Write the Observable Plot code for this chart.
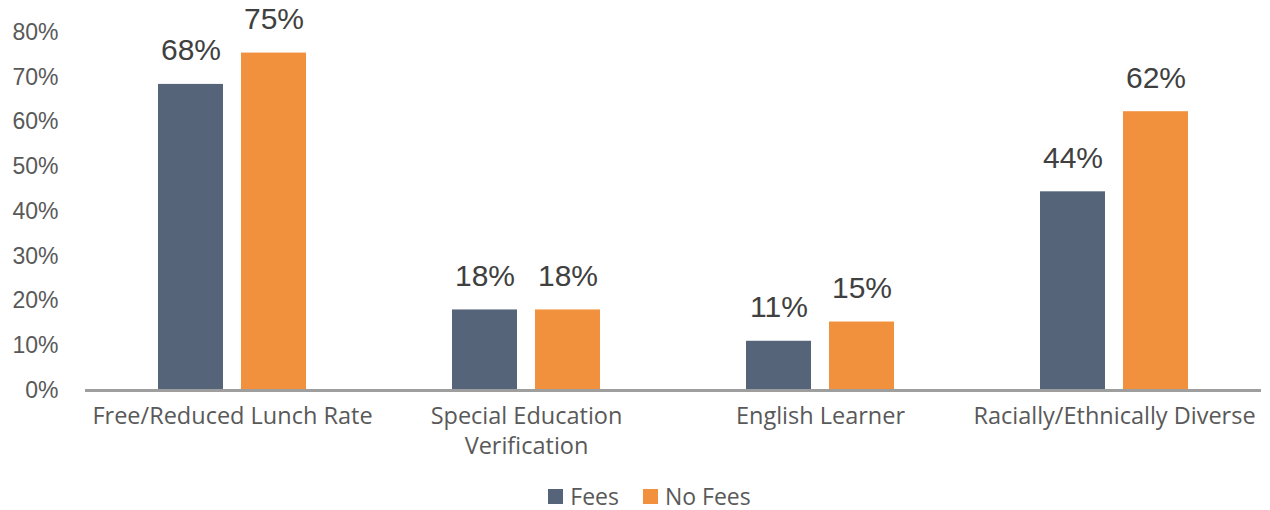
<!DOCTYPE html>
<html>
<head>
<meta charset="utf-8">
<script src="https://cdn.jsdelivr.net/npm/d3@7"></script>
<script src="https://cdn.jsdelivr.net/npm/@observablehq/plot@0.6"></script>
<style>
  html, body { margin: 0; padding: 0; background: #fff; }
  #chart { width: 1270px; }
  .legend { display: flex; justify-content: center; align-items: center; gap: 24px; height: 52px; font-family: "Open Sans", "Noto Sans", sans-serif; font-size: 23px; color: #595959; margin-left: 29px; }
  .legend span.item { display: flex; align-items: center; gap: 7px; }
  .legend span.sw { width: 15px; height: 15px; display: inline-block; }
</style>
</head>
<body>
<div id="chart"></div>
<script>
const categories = ["Free/Reduced Lunch Rate", "Special Education\nVerification", "English Learner", "Racially/Ethnically Diverse"];
const series = ["Fees", "No Fees"];
const feesValues = [68.4, 18.0, 11.0, 44.4];
const noFeesValues = [75.4, 18.0, 15.3, 62.3];
const colors = ["#556479", "#F2913D"];
const yTicks = [0, 10, 20, 30, 40, 50, 60, 70, 80];

const data = [];
categories.forEach((c, i) => {
  data.push({category: c, series: series[0], value: feesValues[i]});
  data.push({category: c, series: series[1], value: noFeesValues[i]});
});

const chart = Plot.plot({
  width: 1270,
  height: 470,
  marginLeft: 83,
  marginRight: 8,
  marginTop: 32,
  marginBottom: 80,
  style: {background: "#fff"},
  fx: {domain: categories, padding: 0, label: null},
  x: {domain: series, paddingInner: 0.22, paddingOuter: 0.87, axis: null},
  y: {domain: [0, 80], label: null, axis: null},
  color: {domain: series, range: colors},
  marks: [
    Plot.axisY({ticks: yTicks, tickFormat: d => d + "%", tickSize: 0, tickPadding: 27, fontSize: 23, fontFamily: "Liberation Sans, Arial, sans-serif", fill: "#595959", label: null}),
    Plot.barY(data, {fx: "category", x: "series", y: "value", fill: "series"}),
    Plot.ruleY([0], {stroke: "#9e9e9e", strokeWidth: 3}),
    Plot.text(data, {fx: "category", x: "series", y: "value", text: d => Math.round(d.value) + "%", dy: -24, lineAnchor: "bottom", fontSize: 30, fontFamily: "Liberation Sans, Arial, sans-serif", fill: "#404040"}),
    Plot.axisFx({anchor: "bottom", tickSize: 0, tickPadding: 12, fontSize: 23.5, lineHeight: 1.28, fontFamily: "Open Sans, Noto Sans, sans-serif", fill: "#595959", label: null})
  ]
});
document.getElementById("chart").appendChild(chart);

const legend = document.createElement("div");
legend.className = "legend";
series.forEach((s, i) => {
  const item = document.createElement("span");
  item.className = "item";
  const sw = document.createElement("span");
  sw.className = "sw";
  sw.style.background = colors[i];
  const t = document.createElement("span");
  t.textContent = s;
  item.appendChild(sw);
  item.appendChild(t);
  legend.appendChild(item);
});
document.getElementById("chart").appendChild(legend);
</script>
</body>
</html>
